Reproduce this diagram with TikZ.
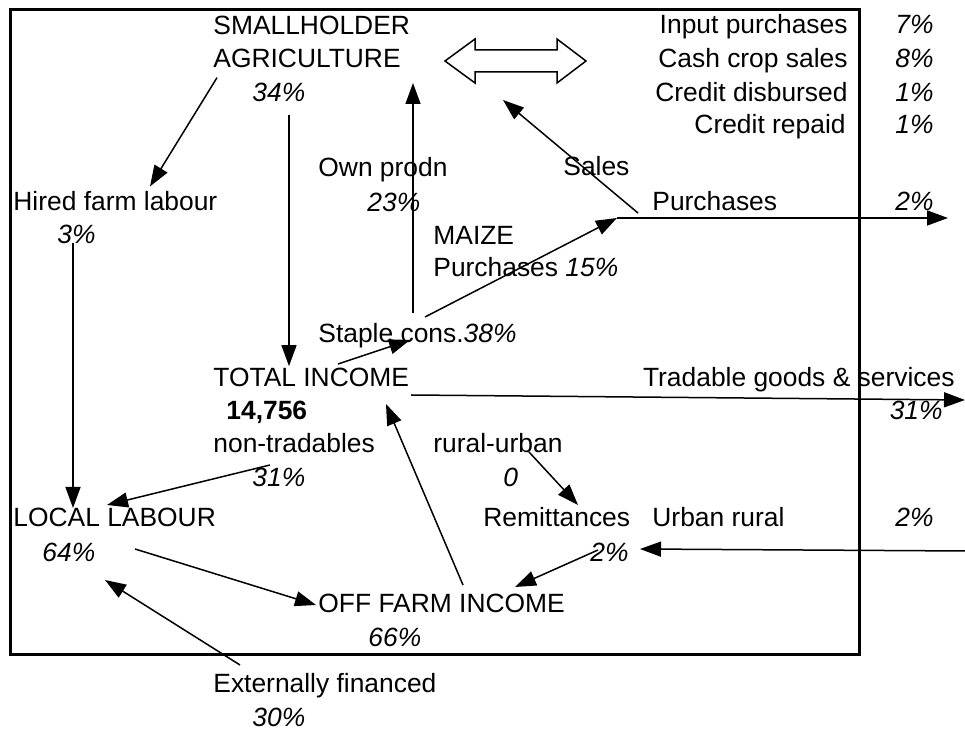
\documentclass[tikz,border=0pt]{standalone}
\usepackage{fontspec}
\setmainfont{Liberation Sans}
\usetikzlibrary{arrows.meta}
\newcommand\dfont{\fontsize{13.2}{16}\selectfont}

\begin{document}
\begin{tikzpicture}
    [x=0.5pt,y=-0.5pt,
     lb/.style={inner sep=0pt,anchor=base west,font=\dfont},
     rb/.style={inner sep=0pt,anchor=base east,font=\dfont},
     pc/.style={lb,font=\dfont\itshape},
     pcr/.style={rb,font=\dfont\itshape},
     arr/.style={line width=0.75pt,-{Triangle[length=10.5pt,width=7.5pt]}}]
    \useasboundingbox (0,0) rectangle (965,731);
    \draw[line width=1.5pt] (10,10) rectangle (859,655);
    % farm side
    \node[lb] (sh) at (213,35) {SMALLHOLDER};
    \node[lb] (agri) at (213,68) {AGRICULTURE};
    \node[pc] (agripc) at (252,102) {34\%};
    \node[lb] (own) at (318,177) {Own prodn};
    \node[pc] (ownpc) at (367,212) {23\%};
    \node[lb] (hired) at (13,211) {Hired farm labour};
    \node[pc] (hiredpc) at (57,244) {3\%};
    \node[lb] (maize) at (433,245) {MAIZE};
    \node[lb] (mpur) at (433,277) {Purchases \textit{15\%}};
    \node[lb] (sales) at (563,176) {Sales};
    \node[lb] (purch) at (652,211) {Purchases};
    \node[pcr] (purchpc) at (934,211) {2\%};
    \node[lb] (staple) at (318,343) {Staple cons.\textit{38\%}};
    % market flows
    \node[rb] (inp) at (848,34) {Input purchases};
    \node[rb] (cash) at (848,68) {Cash crop sales};
    \node[rb] (credd) at (848,102) {Credit disbursed};
    \node[rb] (credr) at (846,134) {Credit repaid};
    \node[pcr] (inppc) at (934,34) {7\%};
    \node[pcr] (cashpc) at (934,68) {8\%};
    \node[pcr] (creddpc) at (934,102) {1\%};
    \node[pcr] (credrpc) at (934,134) {1\%};
    % income
    \node[lb] (total) at (213,387) {TOTAL INCOME};
    \node[lb,font=\dfont\bfseries] (totval) at (226,420) {14,756};
    \node[lb] (nontrad) at (213,453) {non-tradables};
    \node[pc] (nontradpc) at (252,487) {31\%};
    \node[lb] (rural) at (433,453) {rural-urban};
    \node[pc] (ruralpc) at (503,487) {0};
    \node[rb] (trad) at (955,387) {Tradable goods \& services};
    \node[pcr] (tradpc) at (943,420) {31\%};
    \node[lb] (local) at (13,527) {LOCAL LABOUR};
    \node[pc] (localpc) at (42,562) {64\%};
    \node[lb] (remit) at (483,527) {Remittances};
    \node[pc] (remitpc) at (590,562) {2\%};
    \node[lb] (urban) at (652,527) {Urban rural};
    \node[pcr] (urbanpc) at (934,527) {2\%};
    \node[lb] (off) at (318,613) {OFF FARM INCOME};
    \node[pc] (offpc) at (368,647) {66\%};
    \node[lb] (ext) at (213,693) {Externally financed};
    \node[pc] (extpc) at (252,727) {30\%};
    % ends outside the box
    \coordinate (mkt) at (515,61);
    \coordinate (purchout) at (948,218);
    \coordinate (tradout) at (965,400);
    \coordinate (urbanin) at (965,551);
    \draw[line width=0.75pt] ([shift={(-70,0)}]mkt) -- ++(30,-22) -- ++(0,11)
        -- ++(82,0) -- ++(0,-11) -- ++(29,22) -- ++(-29,22) -- ++(0,-11)
        -- ++(-82,0) -- ++(0,11) -- cycle;
    \draw[arr] ([shift={(4,9)}]agri.south west) -- ([shift={(137,-5)}]hired.north west);
    \draw[arr] ([shift={(37,13)}]agripc.base west) -- ([shift={(76,-2)}]total.north west);
    \draw[arr] ([shift={(95,-30)}]staple.base west) -- ([shift={(200,15)}]agri.base west);
    \draw[arr] ([shift={(107,-26)}]staple.base west) -- ([shift={(-35,7)}]purch.base west);
    \draw[arr] ([shift={(-35,7)}]purch.base west) -- (purchout);
    \draw[arr] ([shift={(-14,2)}]purch.base west) -- ([shift={(-12,39)}]mkt);
    \draw[arr] ([shift={(125,-23)}]total.base west) -- ([shift={(92,-3)}]staple.base west);
    \draw[arr] ([shift={(198,8)}]total.base west) -- (tradout);
    \draw[arr] ([shift={(57,12)}]nontrad.base west) -- ([shift={(94,-22)}]local.base west);
    \draw[arr] ([shift={(16,-1)}]hiredpc.base west) -- ([shift={(60,-19)}]local.base west);
    \draw[arr] ([shift={(93,-13)}]localpc.base west) -- ([shift={(-2,-8)}]off.base west);
    \draw[arr] ([shift={(27,-28)}]ext.base west) -- ([shift={(63,18)}]localpc.base west);
    \draw[arr] ([shift={(145,-28)}]off.base west) -- ([shift={(173,17)}]total.base west);
    \draw[arr] ([shift={(96,-1)}]rural.base west) -- ([shift={(95,-22)}]remit.base west);
    \draw[arr] ([shift={(8,-12)}]remitpc.base west) -- ([shift={(197,-26)}]off.base west);
    \draw[arr] (urbanin) -- ([shift={(-12,22)}]urban.base west);
\end{tikzpicture}
\end{document}
